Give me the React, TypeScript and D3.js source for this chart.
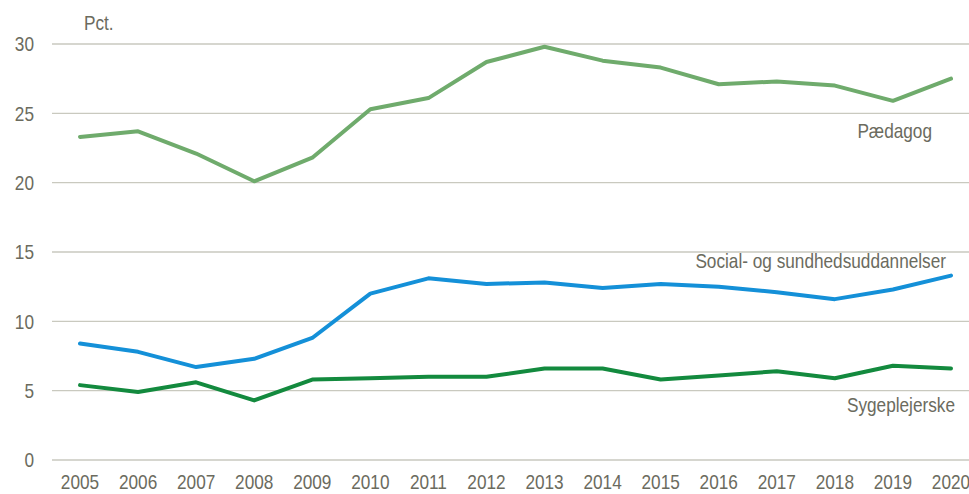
import { line, scaleLinear, scalePoint } from 'd3';
import React from 'react';

const years = [
	'2005', '2006', '2007', '2008', '2009', '2010', '2011', '2012',
	'2013', '2014', '2015', '2016', '2017', '2018', '2019', '2020',
];

const paedagog = [23.3, 23.7, 22.1, 20.1, 21.8, 25.3, 26.1, 28.7, 29.8, 28.8, 28.3, 27.1, 27.3, 27.0, 25.9, 27.5];
const social = [8.4, 7.8, 6.7, 7.3, 8.8, 12.0, 13.1, 12.7, 12.8, 12.4, 12.7, 12.5, 12.1, 11.6, 12.3, 13.3];
const sygeplejerske = [5.4, 4.9, 5.6, 4.3, 5.8, 5.9, 6.0, 6.0, 6.6, 6.6, 5.8, 6.1, 6.4, 5.9, 6.8, 6.6];

const yTicks = [0, 5, 10, 15, 20, 25, 30];

const width = 969;
const height = 494;
const font = '"Liberation Sans", Arial, sans-serif';
const textColor = '#6b6b5e';

// narrow text: Arial metrics squeezed horizontally
const Label = ({ x, y, anchor = 'start', children, dy }: any) => (
	<text
		transform={`translate(${x},${y}) scale(0.82,1)`}
		dy={dy}
		textAnchor={anchor}
		fontSize={21}
		fill={textColor}
	>
		{children}
	</text>
);

const App = () => {
	const xScale = scalePoint<string>().domain(years).range([80, 951]);
	const yScale = scaleLinear().domain([0, 30]).range([460, 44]);

	const path = (vals: number[]) =>
		line<number>()
			.x((_, i) => xScale(years[i]) as number)
			.y(d => yScale(d))(vals) || '';

	const series = [
		{ name: 'Pædagog', values: paedagog, color: '#6fab6c', lx: 932, ly: 138 },
		{ name: 'Social- og sundhedsuddannelser', values: social, color: '#1490d8', lx: 946, ly: 268 },
		{ name: 'Sygeplejerske', values: sygeplejerske, color: '#138a3e', lx: 955, ly: 412 },
	];

	return (
		<svg
			width={width}
			height={height}
			style={{ position: 'absolute', left: 0, top: 0, fontFamily: font }}
		>
			{yTicks.map(t => (
				<g key={t}>
					<line x1={52} x2={969} y1={yScale(t)} y2={yScale(t)} stroke="#c9c9bf" strokeWidth={1.3} />
					<Label x={34} y={yScale(t)} dy=".35em" anchor="end">
						{t}
					</Label>
				</g>
			))}
			<Label x={84} y={30}>Pct.</Label>
			{years.map(y => (
				<Label key={y} x={xScale(y)} y={489} anchor="middle">
					{y}
				</Label>
			))}
			{series.map(s => (
				<g key={s.name}>
					<path d={path(s.values)} fill="none" stroke={s.color} strokeWidth={4} strokeLinejoin="round" strokeLinecap="round" />
					<Label x={s.lx} y={s.ly} anchor="end">
						{s.name}
					</Label>
				</g>
			))}
		</svg>
	);
};

export default App;
